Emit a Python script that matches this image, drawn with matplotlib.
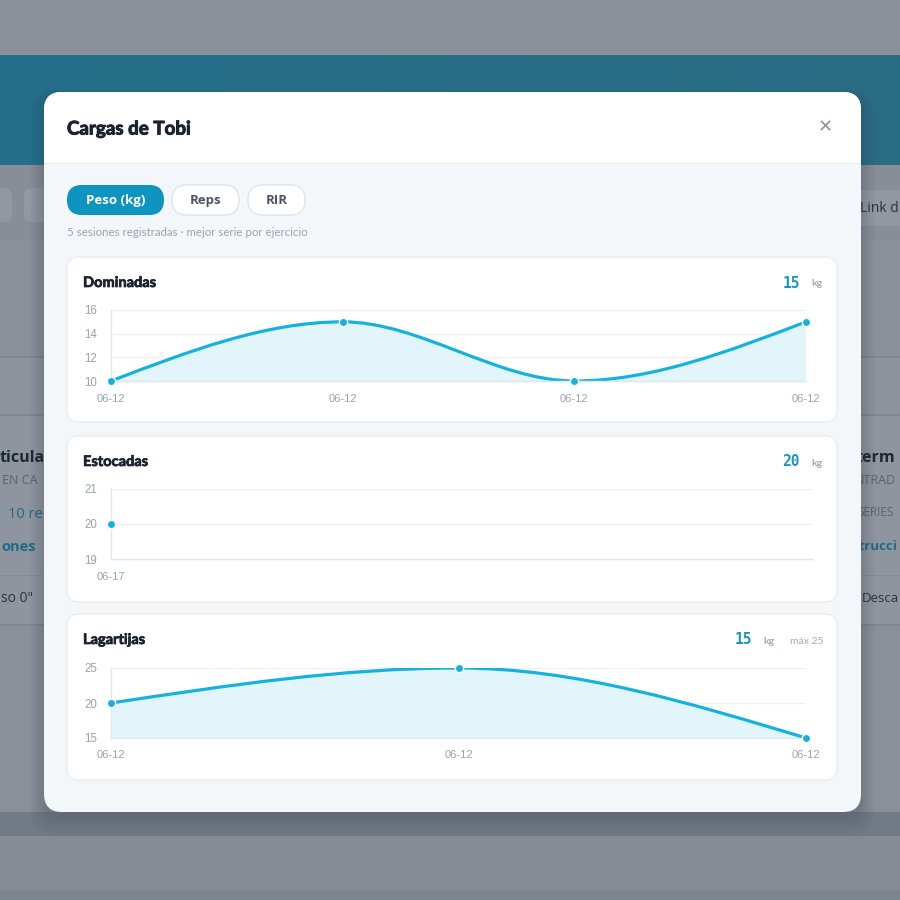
import matplotlib
matplotlib.use("Agg")
import matplotlib.pyplot as plt
import matplotlib.patheffects as pe
import numpy as np
from matplotlib.patches import FancyBboxPatch, Rectangle, PathPatch
from matplotlib.path import Path

# ---------------- data ----------------
exercises = ["Dominadas", "Estocadas", "Lagartijas"]
dominadas_dates = ["06-12", "06-12", "06-12", "06-12"]
dominadas_kg = [10, 15, 10, 15]
estocadas_dates = ["06-17"]
estocadas_kg = [20]
lagartijas_dates = ["06-12", "06-12", "06-12"]
lagartijas_kg = [20, 25, 15]
dominadas_ticks = [10, 12, 14, 16]
estocadas_ticks = [19, 20, 21]
lagartijas_ticks = [15, 20, 25]
latest_values = ["15", "20", "15"]
max_labels = ["", "", "máx 25"]
tabs = ["Peso (kg)", "Reps", "RIR"]
title = "Cargas de Tobi"
subtitle = "5 sesiones registradas · mejor serie por ejercicio"

LINE = "#17b1dd"
FILL = "#e2f5fb"
GRID = "#eef1f4"
TICK = "#9aa2ad"
DARK = "#1b2230"
HEAVY = [pe.withStroke(linewidth=0.7, foreground=DARK)]

W = H = 900
fig = plt.figure(figsize=(9, 9), dpi=100)
bg = fig.add_axes([0, 0, 1, 1])
bg.set_xlim(0, W)
bg.set_ylim(H, 0)
bg.axis("off")

def rect(x0, y0, x1, y1, fc, z=0, ec="none", lw=0):
    bg.add_patch(Rectangle((x0, y0), x1 - x0, y1 - y0, fc=fc, ec=ec, lw=lw, zorder=z))

def rbox(x0, y0, x1, y1, r, fc, z=1, ec="none", lw=0, alpha=1):
    bg.add_patch(FancyBboxPatch((x0 + r, y0 + r), x1 - x0 - 2 * r, y1 - y0 - 2 * r,
                                boxstyle=f"round,pad={r}", fc=fc, ec=ec, lw=lw,
                                zorder=z, alpha=alpha, mutation_aspect=1))

# ---------------- dimmed page behind ----------------
rect(0, 0, 900, 56, "#8a9099")
for i in range(40):
    t = i / 39
    c = np.array([0x24, 0x6f, 0x8a]) * (1 - t) + np.array([0x2a, 0x6c, 0x84]) * t
    rect(i * 22.5, 55, (i + 1) * 22.5 + 1, 165, tuple(c / 255))
rect(0, 165, 900, 900, "#899099")
rect(0, 165, 900, 240, "#878e98")
rbox(-20, 188, 12, 222, 8, "#9198a1", z=0.5)
rbox(24, 188, 60, 222, 8, "#9198a1", z=0.5)
rbox(845, 190, 930, 226, 8, "#9198a1", z=0.5)
bg.text(860, 208, "Link d", fontsize=10, color="#273340", va="center", ha="left",
        family="Open Sans", zorder=0.6)
rect(0, 356, 900, 358, "#80878f", z=0.4)
rect(0, 358, 900, 414, "#8c939c", z=0.4)
rect(0, 414, 900, 416, "#80878f", z=0.4)
rect(0, 416, 900, 624, "#8e959e", z=0.4)
rect(0, 575, 900, 576, "#858c95", z=0.45)
rect(0, 624, 900, 626, "#80878f", z=0.4)
rect(0, 812, 900, 836, "#727a85", z=0.4)
rect(0, 836, 900, 890, "#858b95", z=0.4)
rect(0, 890, 900, 900, "#7d868f", z=0.4)

bgtexts = [
    (0, 458, "ticular", "#1e2833", "bold", 11.5),
    (2, 480, "EN CA", "#5c636d", "normal", 9),
    (8, 514, "10 rep", "#1f6a88", "normal", 10.5),
    (1, 547, "ones", "#1f6a88", "bold", 10.5),
    (1, 598, "so 0\"", "#2a323c", "normal", 10),
    (856, 458, "term", "#1e2833", "bold", 11.5),
    (855, 480, "NTRAD", "#5c636d", "normal", 9),
    (857, 513, "SERIES", "#5c636d", "normal", 8.5),
    (852, 547, "strucci", "#1f6a88", "bold", 9.5),
    (862, 598, "Desca", "#2a323c", "normal", 9.5),
]
for x, y, s, c, w, fs in bgtexts:
    bg.text(x, y, s, color=c, fontweight=w, fontsize=fs, va="center", ha="left",
            family="Open Sans", zorder=0.6)

# ---------------- modal ----------------
for k in range(8):
    rbox(44 - k * 2, 96 - k, 861 + k * 2, 818 + k * 2.5, 18 + k, "#3a4250", z=0.8, alpha=0.035)
rbox(44, 92, 861, 812, 18, "#f4f7fa", z=1)
rbox(44, 92, 861, 200, 18, "#ffffff", z=1.1)
rect(44, 163, 861, 210, "#f4f7fa", z=1.2)
rect(44, 163, 861, 164, "#e6eaef", z=1.3)

bg.text(67, 129, title, fontsize=13.5, fontweight="bold", color=DARK, va="center",
        ha="left", family="Lato", zorder=2, path_effects=HEAVY)
bg.text(825, 127, "✕", fontsize=13, fontweight="bold", color="#8d96a3", va="center",
        ha="center", family="DejaVu Sans", zorder=2)

# tabs
tab_x = [(67, 164), (172, 239), (248, 305)]
for (x0, x1), lab, active in zip(tab_x, tabs, [True, False, False]):
    if active:
        rbox(x0, 185, x1, 215, 15, "#0f94bf", z=2)
        col = "white"
    else:
        rbox(x0, 185, x1, 215, 15, "#ffffff", z=2, ec="#dfe4ea", lw=1)
        col = "#4b5563"
    bg.text((x0 + x1) / 2, 200.5, lab, fontsize=9.5, fontweight="bold", color=col,
            ha="center", va="center", family="Open Sans", zorder=3)
bg.text(67, 232, subtitle, fontsize=8.3, color="#9aa2ad", ha="left", va="center",
        family="Lato", zorder=2)

# ---------------- cards ----------------
cards = [(257, 422), (436, 602), (614, 780)]
for (y0, y1) in cards:
    rbox(67, y0, 837, y1, 12, "#ffffff", z=1.5, ec="#e5eaef", lw=0.8)

def monotone_path(xs, ys):
    xs = np.asarray(xs, float)
    ys = np.asarray(ys, float)
    n = len(xs)
    t = np.zeros(n)
    h = np.diff(xs)
    s = np.diff(ys) / h
    for i in range(1, n - 1):
        p = (s[i - 1] * h[i] + s[i] * h[i - 1]) / (h[i - 1] + h[i])
        t[i] = (np.sign(s[i - 1]) + np.sign(s[i])) * min(abs(s[i - 1]), abs(s[i]), 0.5 * abs(p))
    if n > 2:
        t[0] = (3 * s[0] - t[1]) / 2
        t[-1] = (3 * s[-1] - t[-2]) / 2
    else:
        t[0] = t[-1] = s[0]
    verts = [(xs[0], ys[0])]
    codes = [Path.MOVETO]
    for i in range(n - 1):
        dx = h[i] / 3
        verts += [(xs[i] + dx, ys[i] + dx * t[i]), (xs[i + 1] - dx, ys[i + 1] - dx * t[i + 1]),
                  (xs[i + 1], ys[i + 1])]
        codes += [Path.CURVE4] * 3
    return verts, codes

series = [
    (dominadas_dates, dominadas_kg, dominadas_ticks, 111, 806, 310, 381),
    (estocadas_dates, estocadas_kg, estocadas_ticks, 111, 813, 489, 559),
    (lagartijas_dates, lagartijas_kg, lagartijas_ticks, 111, 806, 668, 738),
]

for (y0c, y1c), name, (dates, vals, ticks, px0, px1, py0, py1), val, mx in zip(
        cards, exercises, series, latest_values, max_labels):
    bg.text(83, y0c + 26, name, fontsize=10.5, fontweight="bold", color=DARK, ha="left",
            va="center", family="Lato", zorder=2,
            path_effects=[pe.withStroke(linewidth=0.5, foreground=DARK)])
    if mx:
        bg.text(823, y0c + 27, mx, fontsize=7.5, color="#a3abb5", ha="right", va="center",
                family="Lato", zorder=2)
        bg.text(775, y0c + 27, "kg", fontsize=7.5, fontweight="bold", color="#a3abb5",
                ha="right", va="center", family="Lato", zorder=2)
        bg.text(752, y0c + 26, val, fontsize=10.5, fontweight="bold", color="#1f93b8",
                ha="right", va="center", family="DejaVu Sans Mono", zorder=2)
    else:
        bg.text(822, y0c + 27, "kg", fontsize=7.5, fontweight="bold", color="#a3abb5",
                ha="right", va="center", family="Lato", zorder=2)
        bg.text(800, y0c + 26, val, fontsize=10.5, fontweight="bold", color="#1f93b8",
                ha="right", va="center", family="DejaVu Sans Mono", zorder=2)

    ax = fig.add_axes([px0 / W, 1 - py1 / H, (px1 - px0) / W, (py1 - py0) / H])
    ax.set_zorder(5)
    ax.patch.set_alpha(0)
    n = len(vals)
    xs = np.arange(n)
    ax.set_xlim(0, max(n - 1, 1))
    ax.set_ylim(ticks[0], ticks[-1])
    for sp in ["top", "right"]:
        ax.spines[sp].set_visible(False)
    ax.spines["left"].set_color("#e3e7ec")
    ax.spines["bottom"].set_color("#e0e5ea")
    ax.spines["left"].set_linewidth(0.9)
    ax.spines["bottom"].set_linewidth(1.0)
    ax.set_yticks(ticks)
    ax.set_yticklabels([str(v) for v in ticks], family="Liberation Sans", fontsize=8.3,
                       color=TICK)
    ax.set_xticks(xs)
    ax.set_xticklabels(dates, family="Liberation Sans", fontsize=8, color=TICK)
    ax.tick_params(axis="both", length=0)
    ax.tick_params(axis="y", pad=10)
    ax.tick_params(axis="x", pad=9)
    for tv in ticks[1:]:
        ax.axhline(tv, color=GRID, lw=0.9, zorder=0)
    if n > 1:
        verts, codes = monotone_path(xs, vals)
        fverts = verts + [(xs[-1], ticks[0]), (xs[0], ticks[0]), (xs[0], vals[0])]
        fcodes = codes + [Path.LINETO, Path.LINETO, Path.CLOSEPOLY]
        ax.add_patch(PathPatch(Path(fverts, fcodes), fc=FILL, ec="none", zorder=1))
        ax.add_patch(PathPatch(Path(verts, codes), fc="none", ec=LINE, lw=2.3,
                               capstyle="round", zorder=2))
    ax.scatter(xs, vals, s=36, color=LINE, edgecolors="white", linewidths=1.0,
               zorder=3, clip_on=False)

fig.savefig("out.png", dpi=100)
